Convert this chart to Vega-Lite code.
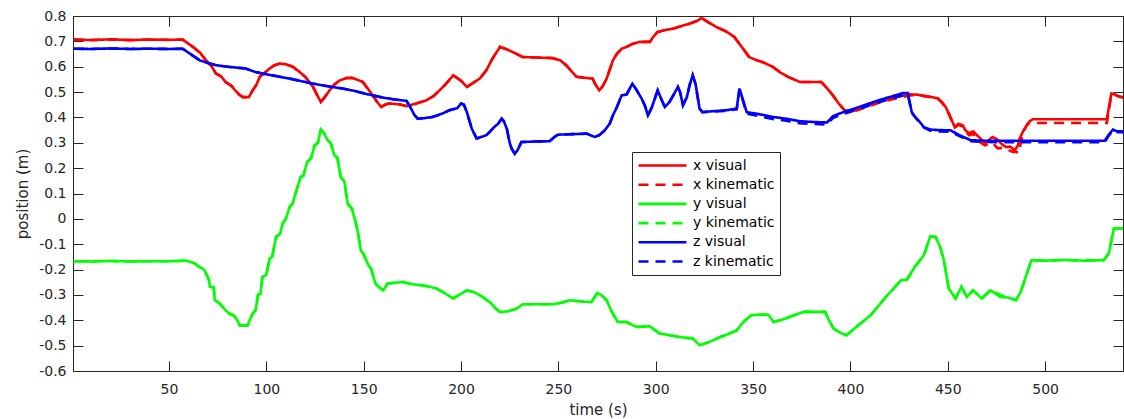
{
  "$schema": "https://vega.github.io/schema/vega-lite/v6.json",
  "width": 1050,
  "height": 355,
  "autosize": {"type": "none"},
  "padding": {"left": 73, "top": 16, "right": 1, "bottom": 48},
  "background": "white",
  "config": {
    "view": {"stroke": "#262626", "strokeWidth": 1},
    "font": "DejaVu Sans",
    "axis": {
      "labelFont": "DejaVu Sans",
      "labelFontSize": 14,
      "labelColor": "#262626",
      "titleFont": "DejaVu Sans",
      "titleFontSize": 15,
      "titleFontWeight": "normal",
      "titleColor": "#262626",
      "tickColor": "#262626",
      "domainColor": "#262626",
      "grid": false,
      "tickSize": -10
    },
    "legend": {
      "labelFont": "DejaVu Sans",
      "labelFontSize": 14,
      "labelColor": "#000000"
    }
  },
  "data": {"values": [
{"s":"x visual","t":1,"v":0.707},{"s":"x visual","t":10,"v":0.705},{"s":"x visual","t":20,"v":0.708},{"s":"x visual","t":30,"v":0.705},{"s":"x visual","t":40,"v":0.707},{"s":"x visual","t":50,"v":0.706},{"s":"x visual","t":57,"v":0.707},{"s":"x visual","t":62,"v":0.68},{"s":"x visual","t":66,"v":0.655},{"s":"x visual","t":69,"v":0.625},{"s":"x visual","t":72,"v":0.6},{"s":"x visual","t":74,"v":0.574},{"s":"x visual","t":77,"v":0.56},{"s":"x visual","t":79,"v":0.54},{"s":"x visual","t":82,"v":0.525},{"s":"x visual","t":84,"v":0.507},{"s":"x visual","t":86,"v":0.49},{"s":"x visual","t":88,"v":0.48},{"s":"x visual","t":91,"v":0.48},{"s":"x visual","t":93,"v":0.507},{"s":"x visual","t":95,"v":0.53},{"s":"x visual","t":96.6,"v":0.56},{"s":"x visual","t":99,"v":0.575},{"s":"x visual","t":101.7,"v":0.593},{"s":"x visual","t":104,"v":0.605},{"s":"x visual","t":106.8,"v":0.612},{"s":"x visual","t":110,"v":0.61},{"s":"x visual","t":113.5,"v":0.6},{"s":"x visual","t":117,"v":0.58},{"s":"x visual","t":120,"v":0.56},{"s":"x visual","t":122,"v":0.54},{"s":"x visual","t":124,"v":0.52},{"s":"x visual","t":126,"v":0.49},{"s":"x visual","t":128,"v":0.461},{"s":"x visual","t":130,"v":0.48},{"s":"x visual","t":132.5,"v":0.507},{"s":"x visual","t":135,"v":0.53},{"s":"x visual","t":137.7,"v":0.546},{"s":"x visual","t":141,"v":0.555},{"s":"x visual","t":144,"v":0.556},{"s":"x visual","t":147,"v":0.548},{"s":"x visual","t":149.5,"v":0.54},{"s":"x visual","t":152,"v":0.515},{"s":"x visual","t":154.6,"v":0.487},{"s":"x visual","t":157,"v":0.46},{"s":"x visual","t":159,"v":0.441},{"s":"x visual","t":161,"v":0.45},{"s":"x visual","t":163,"v":0.455},{"s":"x visual","t":168,"v":0.452},{"s":"x visual","t":172,"v":0.445},{"s":"x visual","t":177,"v":0.455},{"s":"x visual","t":182,"v":0.467},{"s":"x visual","t":186,"v":0.485},{"s":"x visual","t":189,"v":0.507},{"s":"x visual","t":192,"v":0.53},{"s":"x visual","t":196,"v":0.566},{"s":"x visual","t":200,"v":0.545},{"s":"x visual","t":203,"v":0.52},{"s":"x visual","t":206,"v":0.535},{"s":"x visual","t":209.6,"v":0.553},{"s":"x visual","t":213,"v":0.586},{"s":"x visual","t":216,"v":0.63},{"s":"x visual","t":220,"v":0.678},{"s":"x visual","t":223,"v":0.67},{"s":"x visual","t":226.5,"v":0.658},{"s":"x visual","t":231.7,"v":0.638},{"s":"x visual","t":240,"v":0.636},{"s":"x visual","t":247,"v":0.634},{"s":"x visual","t":251,"v":0.625},{"s":"x visual","t":254,"v":0.606},{"s":"x visual","t":257,"v":0.58},{"s":"x visual","t":259.4,"v":0.56},{"s":"x visual","t":264,"v":0.556},{"s":"x visual","t":267.6,"v":0.553},{"s":"x visual","t":269,"v":0.53},{"s":"x visual","t":271,"v":0.507},{"s":"x visual","t":272.5,"v":0.52},{"s":"x visual","t":274.8,"v":0.553},{"s":"x visual","t":278,"v":0.625},{"s":"x visual","t":280,"v":0.65},{"s":"x visual","t":282.5,"v":0.671},{"s":"x visual","t":285,"v":0.678},{"s":"x visual","t":288,"v":0.69},{"s":"x visual","t":291.8,"v":0.698},{"s":"x visual","t":297,"v":0.698},{"s":"x visual","t":299,"v":0.72},{"s":"x visual","t":301,"v":0.737},{"s":"x visual","t":305,"v":0.745},{"s":"x visual","t":308.8,"v":0.75},{"s":"x visual","t":313,"v":0.76},{"s":"x visual","t":317.5,"v":0.77},{"s":"x visual","t":321,"v":0.78},{"s":"x visual","t":323.6,"v":0.792},{"s":"x visual","t":327,"v":0.775},{"s":"x visual","t":331,"v":0.757},{"s":"x visual","t":336,"v":0.74},{"s":"x visual","t":340.4,"v":0.717},{"s":"x visual","t":344,"v":0.68},{"s":"x visual","t":348,"v":0.638},{"s":"x visual","t":352,"v":0.625},{"s":"x visual","t":355,"v":0.618},{"s":"x visual","t":360,"v":0.6},{"s":"x visual","t":363.7,"v":0.579},{"s":"x visual","t":368,"v":0.56},{"s":"x visual","t":374,"v":0.54},{"s":"x visual","t":380,"v":0.54},{"s":"x visual","t":385,"v":0.54},{"s":"x visual","t":388,"v":0.515},{"s":"x visual","t":391,"v":0.487},{"s":"x visual","t":394,"v":0.455},{"s":"x visual","t":397,"v":0.428},{"s":"x visual","t":400,"v":0.425},{"s":"x visual","t":405,"v":0.438},{"s":"x visual","t":410,"v":0.452},{"s":"x visual","t":415,"v":0.465},{"s":"x visual","t":420,"v":0.475},{"s":"x visual","t":425,"v":0.483},{"s":"x visual","t":430.5,"v":0.491},{"s":"x visual","t":434,"v":0.49},{"s":"x visual","t":438,"v":0.485},{"s":"x visual","t":442,"v":0.48},{"s":"x visual","t":445,"v":0.475},{"s":"x visual","t":447,"v":0.461},{"s":"x visual","t":449,"v":0.44},{"s":"x visual","t":451,"v":0.408},{"s":"x visual","t":453.6,"v":0.362},{"s":"x visual","t":455.5,"v":0.375},{"s":"x visual","t":457.7,"v":0.369},{"s":"x visual","t":459,"v":0.35},{"s":"x visual","t":461,"v":0.337},{"s":"x visual","t":463,"v":0.345},{"s":"x visual","t":465,"v":0.33},{"s":"x visual","t":467,"v":0.315},{"s":"x visual","t":469,"v":0.298},{"s":"x visual","t":471,"v":0.31},{"s":"x visual","t":473,"v":0.323},{"s":"x visual","t":475,"v":0.315},{"s":"x visual","t":476.7,"v":0.303},{"s":"x visual","t":478.5,"v":0.29},{"s":"x visual","t":480,"v":0.283},{"s":"x visual","t":482,"v":0.285},{"s":"x visual","t":484.4,"v":0.27},{"s":"x visual","t":486,"v":0.29},{"s":"x visual","t":487,"v":0.318},{"s":"x visual","t":489,"v":0.35},{"s":"x visual","t":490.6,"v":0.369},{"s":"x visual","t":492,"v":0.385},{"s":"x visual","t":493.7,"v":0.393},{"s":"x visual","t":500,"v":0.393},{"s":"x visual","t":510,"v":0.393},{"s":"x visual","t":520,"v":0.393},{"s":"x visual","t":531.7,"v":0.393},{"s":"x visual","t":533,"v":0.45},{"s":"x visual","t":534,"v":0.494},{"s":"x visual","t":536,"v":0.49},{"s":"x visual","t":538,"v":0.483},{"s":"x visual","t":540,"v":0.48},

{"s":"x kinematic","t":1,"v":0.707},{"s":"x kinematic","t":10,"v":0.705},{"s":"x kinematic","t":20,"v":0.708},{"s":"x kinematic","t":30,"v":0.705},{"s":"x kinematic","t":40,"v":0.707},{"s":"x kinematic","t":50,"v":0.706},{"s":"x kinematic","t":57,"v":0.707},{"s":"x kinematic","t":62,"v":0.68},{"s":"x kinematic","t":66,"v":0.655},{"s":"x kinematic","t":69,"v":0.625},{"s":"x kinematic","t":72,"v":0.6},{"s":"x kinematic","t":74,"v":0.574},{"s":"x kinematic","t":77,"v":0.56},{"s":"x kinematic","t":79,"v":0.54},{"s":"x kinematic","t":82,"v":0.525},{"s":"x kinematic","t":84,"v":0.507},{"s":"x kinematic","t":86,"v":0.49},{"s":"x kinematic","t":88,"v":0.48},{"s":"x kinematic","t":91,"v":0.48},{"s":"x kinematic","t":93,"v":0.507},{"s":"x kinematic","t":95,"v":0.53},{"s":"x kinematic","t":96.6,"v":0.56},{"s":"x kinematic","t":99,"v":0.575},{"s":"x kinematic","t":101.7,"v":0.593},{"s":"x kinematic","t":104,"v":0.605},{"s":"x kinematic","t":106.8,"v":0.612},{"s":"x kinematic","t":110,"v":0.61},{"s":"x kinematic","t":113.5,"v":0.6},{"s":"x kinematic","t":117,"v":0.58},{"s":"x kinematic","t":120,"v":0.56},{"s":"x kinematic","t":122,"v":0.54},{"s":"x kinematic","t":124,"v":0.52},{"s":"x kinematic","t":126,"v":0.49},{"s":"x kinematic","t":128,"v":0.461},{"s":"x kinematic","t":130,"v":0.48},{"s":"x kinematic","t":132.5,"v":0.507},{"s":"x kinematic","t":135,"v":0.53},{"s":"x kinematic","t":137.7,"v":0.546},{"s":"x kinematic","t":141,"v":0.555},{"s":"x kinematic","t":144,"v":0.556},{"s":"x kinematic","t":147,"v":0.548},{"s":"x kinematic","t":149.5,"v":0.54},{"s":"x kinematic","t":152,"v":0.515},{"s":"x kinematic","t":154.6,"v":0.487},{"s":"x kinematic","t":157,"v":0.46},{"s":"x kinematic","t":159,"v":0.441},{"s":"x kinematic","t":161,"v":0.45},{"s":"x kinematic","t":163,"v":0.455},{"s":"x kinematic","t":168,"v":0.452},{"s":"x kinematic","t":172,"v":0.445},{"s":"x kinematic","t":177,"v":0.455},{"s":"x kinematic","t":182,"v":0.467},{"s":"x kinematic","t":186,"v":0.485},{"s":"x kinematic","t":189,"v":0.507},{"s":"x kinematic","t":192,"v":0.53},{"s":"x kinematic","t":196,"v":0.566},{"s":"x kinematic","t":200,"v":0.545},{"s":"x kinematic","t":203,"v":0.52},{"s":"x kinematic","t":206,"v":0.535},{"s":"x kinematic","t":209.6,"v":0.553},{"s":"x kinematic","t":213,"v":0.586},{"s":"x kinematic","t":216,"v":0.63},{"s":"x kinematic","t":220,"v":0.678},{"s":"x kinematic","t":223,"v":0.67},{"s":"x kinematic","t":226.5,"v":0.658},{"s":"x kinematic","t":231.7,"v":0.638},{"s":"x kinematic","t":240,"v":0.636},{"s":"x kinematic","t":247,"v":0.634},{"s":"x kinematic","t":251,"v":0.625},{"s":"x kinematic","t":254,"v":0.606},{"s":"x kinematic","t":257,"v":0.58},{"s":"x kinematic","t":259.4,"v":0.56},{"s":"x kinematic","t":264,"v":0.556},{"s":"x kinematic","t":267.6,"v":0.553},{"s":"x kinematic","t":269,"v":0.53},{"s":"x kinematic","t":271,"v":0.507},{"s":"x kinematic","t":272.5,"v":0.52},{"s":"x kinematic","t":274.8,"v":0.553},{"s":"x kinematic","t":278,"v":0.625},{"s":"x kinematic","t":280,"v":0.65},{"s":"x kinematic","t":282.5,"v":0.671},{"s":"x kinematic","t":285,"v":0.678},{"s":"x kinematic","t":288,"v":0.69},{"s":"x kinematic","t":291.8,"v":0.698},{"s":"x kinematic","t":297,"v":0.698},{"s":"x kinematic","t":299,"v":0.72},{"s":"x kinematic","t":301,"v":0.737},{"s":"x kinematic","t":305,"v":0.745},{"s":"x kinematic","t":308.8,"v":0.75},{"s":"x kinematic","t":313,"v":0.76},{"s":"x kinematic","t":317.5,"v":0.77},{"s":"x kinematic","t":321,"v":0.78},{"s":"x kinematic","t":323.6,"v":0.792},{"s":"x kinematic","t":327,"v":0.775},{"s":"x kinematic","t":331,"v":0.757},{"s":"x kinematic","t":336,"v":0.74},{"s":"x kinematic","t":340.4,"v":0.717},{"s":"x kinematic","t":344,"v":0.68},{"s":"x kinematic","t":348,"v":0.638},{"s":"x kinematic","t":352,"v":0.625},{"s":"x kinematic","t":355,"v":0.618},{"s":"x kinematic","t":360,"v":0.6},{"s":"x kinematic","t":363.7,"v":0.579},{"s":"x kinematic","t":368,"v":0.56},{"s":"x kinematic","t":374,"v":0.54},{"s":"x kinematic","t":380,"v":0.54},{"s":"x kinematic","t":385,"v":0.54},{"s":"x kinematic","t":388,"v":0.515},{"s":"x kinematic","t":391,"v":0.487},{"s":"x kinematic","t":394,"v":0.455},{"s":"x kinematic","t":397,"v":0.428},{"s":"x kinematic","t":400,"v":0.42},{"s":"x kinematic","t":405,"v":0.432},{"s":"x kinematic","t":410,"v":0.446},{"s":"x kinematic","t":415,"v":0.459},{"s":"x kinematic","t":420,"v":0.469},{"s":"x kinematic","t":425,"v":0.478},{"s":"x kinematic","t":430.5,"v":0.487},{"s":"x kinematic","t":434,"v":0.488},{"s":"x kinematic","t":438,"v":0.484},{"s":"x kinematic","t":442,"v":0.479},{"s":"x kinematic","t":445,"v":0.473},{"s":"x kinematic","t":447,"v":0.458},{"s":"x kinematic","t":449,"v":0.437},{"s":"x kinematic","t":451,"v":0.405},{"s":"x kinematic","t":453.6,"v":0.36},{"s":"x kinematic","t":455.5,"v":0.37},{"s":"x kinematic","t":457.7,"v":0.365},{"s":"x kinematic","t":459,"v":0.345},{"s":"x kinematic","t":461,"v":0.33},{"s":"x kinematic","t":463,"v":0.335},{"s":"x kinematic","t":465,"v":0.32},{"s":"x kinematic","t":467,"v":0.3},{"s":"x kinematic","t":469,"v":0.29},{"s":"x kinematic","t":471,"v":0.295},{"s":"x kinematic","t":473,"v":0.3},{"s":"x kinematic","t":475.6,"v":0.278},{"s":"x kinematic","t":478,"v":0.28},{"s":"x kinematic","t":480,"v":0.275},{"s":"x kinematic","t":483.4,"v":0.264},{"s":"x kinematic","t":485,"v":0.265},{"s":"x kinematic","t":486.5,"v":0.26},{"s":"x kinematic","t":487.5,"v":0.3},{"s":"x kinematic","t":489,"v":0.345},{"s":"x kinematic","t":490.6,"v":0.37},{"s":"x kinematic","t":492,"v":0.378},{"s":"x kinematic","t":500,"v":0.378},{"s":"x kinematic","t":510,"v":0.378},{"s":"x kinematic","t":520,"v":0.378},{"s":"x kinematic","t":531.7,"v":0.378},{"s":"x kinematic","t":533,"v":0.44},{"s":"x kinematic","t":534,"v":0.49},{"s":"x kinematic","t":536,"v":0.488},{"s":"x kinematic","t":538,"v":0.482},{"s":"x kinematic","t":540,"v":0.478},

{"s":"y visual","t":1,"v":-0.167},{"s":"y visual","t":10,"v":-0.168},{"s":"y visual","t":20,"v":-0.166},{"s":"y visual","t":30,"v":-0.168},{"s":"y visual","t":40,"v":-0.167},{"s":"y visual","t":50,"v":-0.167},{"s":"y visual","t":59,"v":-0.165},{"s":"y visual","t":63,"v":-0.175},{"s":"y visual","t":65.8,"v":-0.19},{"s":"y visual","t":68,"v":-0.2},{"s":"y visual","t":69,"v":-0.215},{"s":"y visual","t":70.5,"v":-0.24},{"s":"y visual","t":71,"v":-0.268},{"s":"y visual","t":73,"v":-0.27},{"s":"y visual","t":73.5,"v":-0.321},{"s":"y visual","t":75.5,"v":-0.33},{"s":"y visual","t":77.6,"v":-0.347},{"s":"y visual","t":79,"v":-0.36},{"s":"y visual","t":81,"v":-0.374},{"s":"y visual","t":83,"v":-0.38},{"s":"y visual","t":84.6,"v":-0.393},{"s":"y visual","t":86.3,"v":-0.42},{"s":"y visual","t":88,"v":-0.42},{"s":"y visual","t":90.4,"v":-0.42},{"s":"y visual","t":92,"v":-0.39},{"s":"y visual","t":93,"v":-0.374},{"s":"y visual","t":94.5,"v":-0.36},{"s":"y visual","t":95.7,"v":-0.3},{"s":"y visual","t":97,"v":-0.295},{"s":"y visual","t":98,"v":-0.229},{"s":"y visual","t":100,"v":-0.22},{"s":"y visual","t":101.7,"v":-0.157},{"s":"y visual","t":103,"v":-0.15},{"s":"y visual","t":105,"v":-0.071},{"s":"y visual","t":107,"v":-0.06},{"s":"y visual","t":108.4,"v":-0.018},{"s":"y visual","t":110,"v":0},{"s":"y visual","t":112,"v":0.047},{"s":"y visual","t":113.5,"v":0.06},{"s":"y visual","t":115,"v":0.1},{"s":"y visual","t":117.6,"v":0.165},{"s":"y visual","t":119,"v":0.17},{"s":"y visual","t":121,"v":0.224},{"s":"y visual","t":123,"v":0.24},{"s":"y visual","t":124.8,"v":0.29},{"s":"y visual","t":126.5,"v":0.3},{"s":"y visual","t":128,"v":0.352},{"s":"y visual","t":129.5,"v":0.34},{"s":"y visual","t":131.5,"v":0.31},{"s":"y visual","t":133,"v":0.3},{"s":"y visual","t":135,"v":0.251},{"s":"y visual","t":136.5,"v":0.24},{"s":"y visual","t":138.2,"v":0.165},{"s":"y visual","t":140,"v":0.15},{"s":"y visual","t":141.8,"v":0.06},{"s":"y visual","t":144,"v":0.04},{"s":"y visual","t":146,"v":-0.018},{"s":"y visual","t":147,"v":-0.05},{"s":"y visual","t":148.5,"v":-0.124},{"s":"y visual","t":150,"v":-0.14},{"s":"y visual","t":152,"v":-0.176},{"s":"y visual","t":154,"v":-0.2},{"s":"y visual","t":156,"v":-0.255},{"s":"y visual","t":158,"v":-0.27},{"s":"y visual","t":160,"v":-0.282},{"s":"y visual","t":162.3,"v":-0.255},{"s":"y visual","t":166,"v":-0.252},{"s":"y visual","t":170,"v":-0.249},{"s":"y visual","t":175,"v":-0.258},{"s":"y visual","t":180,"v":-0.262},{"s":"y visual","t":184,"v":-0.268},{"s":"y visual","t":187.5,"v":-0.275},{"s":"y visual","t":192,"v":-0.295},{"s":"y visual","t":196,"v":-0.314},{"s":"y visual","t":199,"v":-0.3},{"s":"y visual","t":203,"v":-0.282},{"s":"y visual","t":207,"v":-0.29},{"s":"y visual","t":211,"v":-0.308},{"s":"y visual","t":215,"v":-0.33},{"s":"y visual","t":218,"v":-0.355},{"s":"y visual","t":220,"v":-0.367},{"s":"y visual","t":224,"v":-0.365},{"s":"y visual","t":228.6,"v":-0.354},{"s":"y visual","t":231.7,"v":-0.337},{"s":"y visual","t":240,"v":-0.337},{"s":"y visual","t":247,"v":-0.337},{"s":"y visual","t":252,"v":-0.33},{"s":"y visual","t":255.8,"v":-0.321},{"s":"y visual","t":262,"v":-0.326},{"s":"y visual","t":267,"v":-0.328},{"s":"y visual","t":270,"v":-0.292},{"s":"y visual","t":272,"v":-0.3},{"s":"y visual","t":274.8,"v":-0.321},{"s":"y visual","t":277,"v":-0.36},{"s":"y visual","t":280.5,"v":-0.407},{"s":"y visual","t":285,"v":-0.407},{"s":"y visual","t":290,"v":-0.426},{"s":"y visual","t":297,"v":-0.424},{"s":"y visual","t":302,"v":-0.452},{"s":"y visual","t":308,"v":-0.46},{"s":"y visual","t":314,"v":-0.468},{"s":"y visual","t":319,"v":-0.472},{"s":"y visual","t":322.6,"v":-0.498},{"s":"y visual","t":324,"v":-0.495},{"s":"y visual","t":327.7,"v":-0.485},{"s":"y visual","t":333,"v":-0.466},{"s":"y visual","t":337,"v":-0.455},{"s":"y visual","t":341.6,"v":-0.44},{"s":"y visual","t":345,"v":-0.407},{"s":"y visual","t":349,"v":-0.38},{"s":"y visual","t":356.5,"v":-0.377},{"s":"y visual","t":358,"v":-0.38},{"s":"y visual","t":360.6,"v":-0.407},{"s":"y visual","t":366,"v":-0.395},{"s":"y visual","t":371,"v":-0.38},{"s":"y visual","t":376,"v":-0.367},{"s":"y visual","t":382,"v":-0.367},{"s":"y visual","t":387,"v":-0.367},{"s":"y visual","t":389,"v":-0.4},{"s":"y visual","t":391.4,"v":-0.433},{"s":"y visual","t":395,"v":-0.45},{"s":"y visual","t":398,"v":-0.459},{"s":"y visual","t":404,"v":-0.42},{"s":"y visual","t":410.4,"v":-0.38},{"s":"y visual","t":418,"v":-0.31},{"s":"y visual","t":426,"v":-0.242},{"s":"y visual","t":429,"v":-0.24},{"s":"y visual","t":433,"v":-0.19},{"s":"y visual","t":437.7,"v":-0.144},{"s":"y visual","t":441,"v":-0.069},{"s":"y visual","t":443.8,"v":-0.071},{"s":"y visual","t":446,"v":-0.11},{"s":"y visual","t":448,"v":-0.163},{"s":"y visual","t":450.5,"v":-0.275},{"s":"y visual","t":454,"v":-0.314},{"s":"y visual","t":457,"v":-0.268},{"s":"y visual","t":459.8,"v":-0.308},{"s":"y visual","t":463,"v":-0.282},{"s":"y visual","t":467.5,"v":-0.314},{"s":"y visual","t":472,"v":-0.282},{"s":"y visual","t":477,"v":-0.308},{"s":"y visual","t":481,"v":-0.31},{"s":"y visual","t":485,"v":-0.321},{"s":"y visual","t":487.5,"v":-0.288},{"s":"y visual","t":490.6,"v":-0.216},{"s":"y visual","t":493,"v":-0.163},{"s":"y visual","t":500,"v":-0.165},{"s":"y visual","t":510,"v":-0.162},{"s":"y visual","t":520,"v":-0.165},{"s":"y visual","t":530,"v":-0.163},{"s":"y visual","t":532.7,"v":-0.137},{"s":"y visual","t":535.3,"v":-0.038},{"s":"y visual","t":540,"v":-0.038},

{"s":"y kinematic","t":1,"v":-0.167},{"s":"y kinematic","t":10,"v":-0.168},{"s":"y kinematic","t":20,"v":-0.166},{"s":"y kinematic","t":30,"v":-0.168},{"s":"y kinematic","t":40,"v":-0.167},{"s":"y kinematic","t":50,"v":-0.167},{"s":"y kinematic","t":59,"v":-0.165},{"s":"y kinematic","t":63,"v":-0.175},{"s":"y kinematic","t":65.8,"v":-0.19},{"s":"y kinematic","t":68,"v":-0.2},{"s":"y kinematic","t":69,"v":-0.215},{"s":"y kinematic","t":70.5,"v":-0.24},{"s":"y kinematic","t":71,"v":-0.268},{"s":"y kinematic","t":73,"v":-0.27},{"s":"y kinematic","t":73.5,"v":-0.321},{"s":"y kinematic","t":75.5,"v":-0.33},{"s":"y kinematic","t":77.6,"v":-0.347},{"s":"y kinematic","t":79,"v":-0.36},{"s":"y kinematic","t":81,"v":-0.374},{"s":"y kinematic","t":83,"v":-0.38},{"s":"y kinematic","t":84.6,"v":-0.393},{"s":"y kinematic","t":86.3,"v":-0.42},{"s":"y kinematic","t":88,"v":-0.42},{"s":"y kinematic","t":90.4,"v":-0.42},{"s":"y kinematic","t":92,"v":-0.39},{"s":"y kinematic","t":93,"v":-0.374},{"s":"y kinematic","t":94.5,"v":-0.36},{"s":"y kinematic","t":95.7,"v":-0.3},{"s":"y kinematic","t":97,"v":-0.295},{"s":"y kinematic","t":98,"v":-0.229},{"s":"y kinematic","t":100,"v":-0.22},{"s":"y kinematic","t":101.7,"v":-0.157},{"s":"y kinematic","t":103,"v":-0.15},{"s":"y kinematic","t":105,"v":-0.071},{"s":"y kinematic","t":107,"v":-0.06},{"s":"y kinematic","t":108.4,"v":-0.018},{"s":"y kinematic","t":110,"v":0},{"s":"y kinematic","t":112,"v":0.047},{"s":"y kinematic","t":113.5,"v":0.06},{"s":"y kinematic","t":115,"v":0.1},{"s":"y kinematic","t":117.6,"v":0.165},{"s":"y kinematic","t":119,"v":0.17},{"s":"y kinematic","t":121,"v":0.224},{"s":"y kinematic","t":123,"v":0.24},{"s":"y kinematic","t":124.8,"v":0.29},{"s":"y kinematic","t":126.5,"v":0.3},{"s":"y kinematic","t":128,"v":0.352},{"s":"y kinematic","t":129.5,"v":0.34},{"s":"y kinematic","t":131.5,"v":0.31},{"s":"y kinematic","t":133,"v":0.3},{"s":"y kinematic","t":135,"v":0.251},{"s":"y kinematic","t":136.5,"v":0.24},{"s":"y kinematic","t":138.2,"v":0.165},{"s":"y kinematic","t":140,"v":0.15},{"s":"y kinematic","t":141.8,"v":0.06},{"s":"y kinematic","t":144,"v":0.04},{"s":"y kinematic","t":146,"v":-0.018},{"s":"y kinematic","t":147,"v":-0.05},{"s":"y kinematic","t":148.5,"v":-0.124},{"s":"y kinematic","t":150,"v":-0.14},{"s":"y kinematic","t":152,"v":-0.176},{"s":"y kinematic","t":154,"v":-0.2},{"s":"y kinematic","t":156,"v":-0.255},{"s":"y kinematic","t":158,"v":-0.27},{"s":"y kinematic","t":160,"v":-0.282},{"s":"y kinematic","t":162.3,"v":-0.255},{"s":"y kinematic","t":166,"v":-0.252},{"s":"y kinematic","t":170,"v":-0.249},{"s":"y kinematic","t":175,"v":-0.258},{"s":"y kinematic","t":180,"v":-0.262},{"s":"y kinematic","t":184,"v":-0.268},{"s":"y kinematic","t":187.5,"v":-0.275},{"s":"y kinematic","t":192,"v":-0.295},{"s":"y kinematic","t":196,"v":-0.314},{"s":"y kinematic","t":199,"v":-0.3},{"s":"y kinematic","t":203,"v":-0.282},{"s":"y kinematic","t":207,"v":-0.29},{"s":"y kinematic","t":211,"v":-0.308},{"s":"y kinematic","t":215,"v":-0.33},{"s":"y kinematic","t":218,"v":-0.355},{"s":"y kinematic","t":220,"v":-0.367},{"s":"y kinematic","t":224,"v":-0.365},{"s":"y kinematic","t":228.6,"v":-0.354},{"s":"y kinematic","t":231.7,"v":-0.337},{"s":"y kinematic","t":240,"v":-0.337},{"s":"y kinematic","t":247,"v":-0.337},{"s":"y kinematic","t":252,"v":-0.33},{"s":"y kinematic","t":255.8,"v":-0.321},{"s":"y kinematic","t":262,"v":-0.326},{"s":"y kinematic","t":267,"v":-0.328},{"s":"y kinematic","t":270,"v":-0.292},{"s":"y kinematic","t":272,"v":-0.3},{"s":"y kinematic","t":274.8,"v":-0.321},{"s":"y kinematic","t":277,"v":-0.36},{"s":"y kinematic","t":280.5,"v":-0.407},{"s":"y kinematic","t":285,"v":-0.407},{"s":"y kinematic","t":290,"v":-0.426},{"s":"y kinematic","t":297,"v":-0.424},{"s":"y kinematic","t":302,"v":-0.452},{"s":"y kinematic","t":308,"v":-0.46},{"s":"y kinematic","t":314,"v":-0.468},{"s":"y kinematic","t":319,"v":-0.472},{"s":"y kinematic","t":322.6,"v":-0.498},{"s":"y kinematic","t":324,"v":-0.495},{"s":"y kinematic","t":327.7,"v":-0.485},{"s":"y kinematic","t":333,"v":-0.466},{"s":"y kinematic","t":337,"v":-0.455},{"s":"y kinematic","t":341.6,"v":-0.44},{"s":"y kinematic","t":345,"v":-0.407},{"s":"y kinematic","t":349,"v":-0.38},{"s":"y kinematic","t":356.5,"v":-0.377},{"s":"y kinematic","t":358,"v":-0.38},{"s":"y kinematic","t":360.6,"v":-0.407},{"s":"y kinematic","t":366,"v":-0.395},{"s":"y kinematic","t":371,"v":-0.38},{"s":"y kinematic","t":376,"v":-0.367},{"s":"y kinematic","t":382,"v":-0.367},{"s":"y kinematic","t":387,"v":-0.367},{"s":"y kinematic","t":389,"v":-0.4},{"s":"y kinematic","t":391.4,"v":-0.433},{"s":"y kinematic","t":395,"v":-0.45},{"s":"y kinematic","t":398,"v":-0.459},{"s":"y kinematic","t":404,"v":-0.42},{"s":"y kinematic","t":410.4,"v":-0.38},{"s":"y kinematic","t":418,"v":-0.31},{"s":"y kinematic","t":426,"v":-0.242},{"s":"y kinematic","t":429,"v":-0.24},{"s":"y kinematic","t":433,"v":-0.19},{"s":"y kinematic","t":437.7,"v":-0.144},{"s":"y kinematic","t":441,"v":-0.069},{"s":"y kinematic","t":443.8,"v":-0.071},{"s":"y kinematic","t":446,"v":-0.11},{"s":"y kinematic","t":448,"v":-0.163},{"s":"y kinematic","t":450.5,"v":-0.275},{"s":"y kinematic","t":454,"v":-0.314},{"s":"y kinematic","t":457,"v":-0.268},{"s":"y kinematic","t":459.8,"v":-0.308},{"s":"y kinematic","t":463,"v":-0.282},{"s":"y kinematic","t":467.5,"v":-0.314},{"s":"y kinematic","t":472,"v":-0.278},{"s":"y kinematic","t":477,"v":-0.3},{"s":"y kinematic","t":481,"v":-0.31},{"s":"y kinematic","t":485,"v":-0.321},{"s":"y kinematic","t":487.5,"v":-0.288},{"s":"y kinematic","t":490.6,"v":-0.216},{"s":"y kinematic","t":493,"v":-0.163},{"s":"y kinematic","t":500,"v":-0.165},{"s":"y kinematic","t":510,"v":-0.162},{"s":"y kinematic","t":520,"v":-0.165},{"s":"y kinematic","t":530,"v":-0.163},{"s":"y kinematic","t":532.7,"v":-0.137},{"s":"y kinematic","t":535.3,"v":-0.038},{"s":"y kinematic","t":540,"v":-0.038},

{"s":"z visual","t":1,"v":0.671},{"s":"z visual","t":10,"v":0.67},{"s":"z visual","t":20,"v":0.672},{"s":"z visual","t":30,"v":0.67},{"s":"z visual","t":40,"v":0.671},{"s":"z visual","t":50,"v":0.67},{"s":"z visual","t":57,"v":0.671},{"s":"z visual","t":62,"v":0.645},{"s":"z visual","t":65.8,"v":0.625},{"s":"z visual","t":70,"v":0.615},{"s":"z visual","t":74,"v":0.606},{"s":"z visual","t":80,"v":0.6},{"s":"z visual","t":89.4,"v":0.593},{"s":"z visual","t":94,"v":0.58},{"s":"z visual","t":98,"v":0.573},{"s":"z visual","t":105,"v":0.563},{"s":"z visual","t":112,"v":0.553},{"s":"z visual","t":118,"v":0.543},{"s":"z visual","t":124,"v":0.533},{"s":"z visual","t":134,"v":0.52},{"s":"z visual","t":139,"v":0.514},{"s":"z visual","t":145,"v":0.505},{"s":"z visual","t":150,"v":0.495},{"s":"z visual","t":154.6,"v":0.487},{"s":"z visual","t":160,"v":0.478},{"s":"z visual","t":165,"v":0.472},{"s":"z visual","t":170,"v":0.467},{"s":"z visual","t":172,"v":0.465},{"s":"z visual","t":174,"v":0.44},{"s":"z visual","t":176,"v":0.41},{"s":"z visual","t":177.7,"v":0.395},{"s":"z visual","t":181,"v":0.397},{"s":"z visual","t":185.4,"v":0.402},{"s":"z visual","t":190,"v":0.414},{"s":"z visual","t":194,"v":0.428},{"s":"z visual","t":198,"v":0.436},{"s":"z visual","t":200,"v":0.455},{"s":"z visual","t":201.5,"v":0.45},{"s":"z visual","t":203,"v":0.421},{"s":"z visual","t":205.5,"v":0.356},{"s":"z visual","t":208,"v":0.317},{"s":"z visual","t":210,"v":0.322},{"s":"z visual","t":213,"v":0.33},{"s":"z visual","t":215,"v":0.345},{"s":"z visual","t":217,"v":0.362},{"s":"z visual","t":219,"v":0.375},{"s":"z visual","t":220.9,"v":0.395},{"s":"z visual","t":222,"v":0.385},{"s":"z visual","t":223.5,"v":0.356},{"s":"z visual","t":225,"v":0.3},{"s":"z visual","t":226,"v":0.277},{"s":"z visual","t":227.6,"v":0.257},{"s":"z visual","t":229,"v":0.27},{"s":"z visual","t":231,"v":0.303},{"s":"z visual","t":238,"v":0.305},{"s":"z visual","t":245.5,"v":0.306},{"s":"z visual","t":247.5,"v":0.32},{"s":"z visual","t":249.7,"v":0.332},{"s":"z visual","t":257,"v":0.334},{"s":"z visual","t":264.5,"v":0.336},{"s":"z visual","t":268.7,"v":0.323},{"s":"z visual","t":271,"v":0.33},{"s":"z visual","t":273.8,"v":0.349},{"s":"z visual","t":276.4,"v":0.376},{"s":"z visual","t":278,"v":0.408},{"s":"z visual","t":280,"v":0.44},{"s":"z visual","t":282.5,"v":0.487},{"s":"z visual","t":285,"v":0.49},{"s":"z visual","t":288,"v":0.533},{"s":"z visual","t":290,"v":0.51},{"s":"z visual","t":292.8,"v":0.474},{"s":"z visual","t":294.5,"v":0.445},{"s":"z visual","t":296,"v":0.408},{"s":"z visual","t":298,"v":0.44},{"s":"z visual","t":301,"v":0.507},{"s":"z visual","t":303,"v":0.47},{"s":"z visual","t":304.7,"v":0.441},{"s":"z visual","t":307,"v":0.46},{"s":"z visual","t":311.4,"v":0.52},{"s":"z visual","t":312.5,"v":0.5},{"s":"z visual","t":314,"v":0.448},{"s":"z visual","t":316,"v":0.48},{"s":"z visual","t":317.5,"v":0.53},{"s":"z visual","t":319,"v":0.566},{"s":"z visual","t":320.5,"v":0.53},{"s":"z visual","t":322.5,"v":0.435},{"s":"z visual","t":324,"v":0.421},{"s":"z visual","t":330,"v":0.425},{"s":"z visual","t":336,"v":0.428},{"s":"z visual","t":341.6,"v":0.435},{"s":"z visual","t":343,"v":0.514},{"s":"z visual","t":344.8,"v":0.47},{"s":"z visual","t":346.7,"v":0.421},{"s":"z visual","t":353,"v":0.413},{"s":"z visual","t":360,"v":0.402},{"s":"z visual","t":367,"v":0.395},{"s":"z visual","t":374,"v":0.385},{"s":"z visual","t":381,"v":0.382},{"s":"z visual","t":388,"v":0.38},{"s":"z visual","t":391,"v":0.405},{"s":"z visual","t":396,"v":0.42},{"s":"z visual","t":400,"v":0.43},{"s":"z visual","t":404.8,"v":0.442},{"s":"z visual","t":410,"v":0.456},{"s":"z visual","t":415,"v":0.469},{"s":"z visual","t":420,"v":0.48},{"s":"z visual","t":427,"v":0.496},{"s":"z visual","t":429.5,"v":0.496},{"s":"z visual","t":431.5,"v":0.421},{"s":"z visual","t":433.5,"v":0.4},{"s":"z visual","t":435.6,"v":0.382},{"s":"z visual","t":437.7,"v":0.362},{"s":"z visual","t":441,"v":0.352},{"s":"z visual","t":446,"v":0.35},{"s":"z visual","t":451.5,"v":0.349},{"s":"z visual","t":456,"v":0.33},{"s":"z visual","t":461.8,"v":0.31},{"s":"z visual","t":470,"v":0.308},{"s":"z visual","t":480,"v":0.308},{"s":"z visual","t":490,"v":0.308},{"s":"z visual","t":500,"v":0.308},{"s":"z visual","t":515,"v":0.308},{"s":"z visual","t":530.6,"v":0.308},{"s":"z visual","t":532.5,"v":0.33},{"s":"z visual","t":534.8,"v":0.352},{"s":"z visual","t":537,"v":0.345},{"s":"z visual","t":540,"v":0.345},

{"s":"z kinematic","t":1,"v":0.671},{"s":"z kinematic","t":10,"v":0.67},{"s":"z kinematic","t":20,"v":0.672},{"s":"z kinematic","t":30,"v":0.67},{"s":"z kinematic","t":40,"v":0.671},{"s":"z kinematic","t":50,"v":0.67},{"s":"z kinematic","t":57,"v":0.671},{"s":"z kinematic","t":62,"v":0.645},{"s":"z kinematic","t":65.8,"v":0.625},{"s":"z kinematic","t":70,"v":0.615},{"s":"z kinematic","t":74,"v":0.606},{"s":"z kinematic","t":80,"v":0.6},{"s":"z kinematic","t":89.4,"v":0.593},{"s":"z kinematic","t":94,"v":0.58},{"s":"z kinematic","t":98,"v":0.573},{"s":"z kinematic","t":105,"v":0.563},{"s":"z kinematic","t":112,"v":0.553},{"s":"z kinematic","t":118,"v":0.543},{"s":"z kinematic","t":124,"v":0.533},{"s":"z kinematic","t":134,"v":0.52},{"s":"z kinematic","t":139,"v":0.514},{"s":"z kinematic","t":145,"v":0.505},{"s":"z kinematic","t":150,"v":0.495},{"s":"z kinematic","t":154.6,"v":0.487},{"s":"z kinematic","t":160,"v":0.478},{"s":"z kinematic","t":165,"v":0.472},{"s":"z kinematic","t":170,"v":0.467},{"s":"z kinematic","t":172,"v":0.465},{"s":"z kinematic","t":174,"v":0.44},{"s":"z kinematic","t":176,"v":0.41},{"s":"z kinematic","t":177.7,"v":0.395},{"s":"z kinematic","t":181,"v":0.397},{"s":"z kinematic","t":185.4,"v":0.402},{"s":"z kinematic","t":190,"v":0.414},{"s":"z kinematic","t":194,"v":0.428},{"s":"z kinematic","t":198,"v":0.436},{"s":"z kinematic","t":200,"v":0.455},{"s":"z kinematic","t":201.5,"v":0.45},{"s":"z kinematic","t":203,"v":0.421},{"s":"z kinematic","t":205.5,"v":0.356},{"s":"z kinematic","t":208,"v":0.317},{"s":"z kinematic","t":210,"v":0.322},{"s":"z kinematic","t":213,"v":0.33},{"s":"z kinematic","t":215,"v":0.345},{"s":"z kinematic","t":217,"v":0.362},{"s":"z kinematic","t":219,"v":0.375},{"s":"z kinematic","t":220.9,"v":0.395},{"s":"z kinematic","t":222,"v":0.385},{"s":"z kinematic","t":223.5,"v":0.356},{"s":"z kinematic","t":225,"v":0.3},{"s":"z kinematic","t":226,"v":0.277},{"s":"z kinematic","t":227.6,"v":0.257},{"s":"z kinematic","t":229,"v":0.27},{"s":"z kinematic","t":231,"v":0.303},{"s":"z kinematic","t":238,"v":0.305},{"s":"z kinematic","t":245.5,"v":0.306},{"s":"z kinematic","t":247.5,"v":0.32},{"s":"z kinematic","t":249.7,"v":0.332},{"s":"z kinematic","t":257,"v":0.334},{"s":"z kinematic","t":264.5,"v":0.336},{"s":"z kinematic","t":268.7,"v":0.323},{"s":"z kinematic","t":271,"v":0.33},{"s":"z kinematic","t":273.8,"v":0.349},{"s":"z kinematic","t":276.4,"v":0.376},{"s":"z kinematic","t":278,"v":0.408},{"s":"z kinematic","t":280,"v":0.44},{"s":"z kinematic","t":282.5,"v":0.487},{"s":"z kinematic","t":285,"v":0.49},{"s":"z kinematic","t":288,"v":0.533},{"s":"z kinematic","t":290,"v":0.51},{"s":"z kinematic","t":292.8,"v":0.474},{"s":"z kinematic","t":294.5,"v":0.445},{"s":"z kinematic","t":296,"v":0.408},{"s":"z kinematic","t":298,"v":0.44},{"s":"z kinematic","t":301,"v":0.507},{"s":"z kinematic","t":303,"v":0.47},{"s":"z kinematic","t":304.7,"v":0.441},{"s":"z kinematic","t":307,"v":0.46},{"s":"z kinematic","t":311.4,"v":0.52},{"s":"z kinematic","t":312.5,"v":0.5},{"s":"z kinematic","t":314,"v":0.448},{"s":"z kinematic","t":316,"v":0.48},{"s":"z kinematic","t":317.5,"v":0.53},{"s":"z kinematic","t":319,"v":0.566},{"s":"z kinematic","t":320.5,"v":0.53},{"s":"z kinematic","t":322.5,"v":0.435},{"s":"z kinematic","t":324,"v":0.421},{"s":"z kinematic","t":330,"v":0.423},{"s":"z kinematic","t":336,"v":0.426},{"s":"z kinematic","t":341.6,"v":0.432},{"s":"z kinematic","t":343,"v":0.51},{"s":"z kinematic","t":344.8,"v":0.465},{"s":"z kinematic","t":346.7,"v":0.415},{"s":"z kinematic","t":353,"v":0.405},{"s":"z kinematic","t":360,"v":0.394},{"s":"z kinematic","t":367,"v":0.387},{"s":"z kinematic","t":374,"v":0.377},{"s":"z kinematic","t":381,"v":0.374},{"s":"z kinematic","t":388,"v":0.372},{"s":"z kinematic","t":391,"v":0.398},{"s":"z kinematic","t":396,"v":0.413},{"s":"z kinematic","t":400,"v":0.422},{"s":"z kinematic","t":404.8,"v":0.434},{"s":"z kinematic","t":410,"v":0.448},{"s":"z kinematic","t":415,"v":0.461},{"s":"z kinematic","t":420,"v":0.472},{"s":"z kinematic","t":427,"v":0.488},{"s":"z kinematic","t":429.5,"v":0.49},{"s":"z kinematic","t":431.5,"v":0.418},{"s":"z kinematic","t":433.5,"v":0.398},{"s":"z kinematic","t":435.6,"v":0.38},{"s":"z kinematic","t":437.7,"v":0.36},{"s":"z kinematic","t":441,"v":0.348},{"s":"z kinematic","t":446,"v":0.345},{"s":"z kinematic","t":451.5,"v":0.344},{"s":"z kinematic","t":456,"v":0.326},{"s":"z kinematic","t":461.8,"v":0.306},{"s":"z kinematic","t":470,"v":0.303},{"s":"z kinematic","t":480,"v":0.302},{"s":"z kinematic","t":490,"v":0.302},{"s":"z kinematic","t":500,"v":0.302},{"s":"z kinematic","t":515,"v":0.302},{"s":"z kinematic","t":530.6,"v":0.302},{"s":"z kinematic","t":532.5,"v":0.326},{"s":"z kinematic","t":534.8,"v":0.348},{"s":"z kinematic","t":537,"v":0.342},{"s":"z kinematic","t":540,"v":0.342}
  ]},
  "resolve": {"axis": {"x": "independent", "y": "independent"}},
  "layer": [
    {
      "mark": {"type": "line", "strokeWidth": 2.6, "clip": true},
      "encoding": {
        "x": {
          "field": "t", "type": "quantitative",
          "scale": {"domain": [0.7, 540], "nice": false, "zero": false},
          "axis": {
            "title": "time (s)",
            "values": [50, 100, 150, 200, 250, 300, 350, 400, 450, 500],
            "labelPadding": 21,
            "titlePadding": 6,
            "domain": false
          }
        },
        "y": {
          "field": "v", "type": "quantitative",
          "scale": {"domain": [-0.6, 0.8], "nice": false, "zero": false},
          "axis": {
            "title": "position (m)",
            "values": [-0.6, -0.5, -0.4, -0.3, -0.2, -0.1, 0, 0.1, 0.2, 0.3, 0.4, 0.5, 0.6, 0.7, 0.8],
            "labelExpr": "toString(round(datum.value*10)/10)",
            "labelPadding": 17,
            "titlePadding": 8,
            "domain": false
          }
        },
        "color": {
          "field": "s", "type": "nominal",
          "scale": {
            "domain": ["x visual", "x kinematic", "y visual", "y kinematic", "z visual", "z kinematic"],
            "range": ["#ff0000", "#ff0000", "#00ff00", "#00ff00", "#0000ff", "#0000ff"]
          },
          "legend": {
            "title": null,
            "orient": "none",
            "legendX": 559,
            "legendY": 136,
            "symbolType": "stroke",
            "symbolSize": 2304,
            "symbolStrokeWidth": 2.6,
            "clipHeight": 17,
            "rowPadding": 2.2,
            "labelOffset": 5,
            "padding": 5,
            "strokeColor": "#262626",
            "fillColor": "white",
            "cornerRadius": 0
          }
        },
        "strokeDash": {
          "field": "s", "type": "nominal",
          "scale": {
            "domain": ["x visual", "x kinematic", "y visual", "y kinematic", "z visual", "z kinematic"],
            "range": [[1, 0], [10, 7], [1, 0], [10, 7], [1, 0], [10, 7]]
          },
          "legend": {
            "title": null,
            "orient": "none",
            "legendX": 559,
            "legendY": 136,
            "symbolType": "stroke",
            "symbolSize": 2304,
            "symbolStrokeWidth": 2.6,
            "clipHeight": 17,
            "rowPadding": 2.2,
            "labelOffset": 5,
            "padding": 5,
            "strokeColor": "#262626",
            "fillColor": "white",
            "cornerRadius": 0
          }
        }
      }
    },
    {
      "mark": {"type": "line", "opacity": 0},
      "encoding": {
        "x": {
          "field": "t", "type": "quantitative",
          "axis": {
            "orient": "top", "title": null, "labels": false, "domain": false,
            "values": [50, 100, 150, 200, 250, 300, 350, 400, 450, 500]
          }
        },
        "y": {
          "field": "v", "type": "quantitative",
          "axis": {
            "orient": "right", "title": null, "labels": false, "domain": false,
            "values": [-0.6, -0.5, -0.4, -0.3, -0.2, -0.1, 0, 0.1, 0.2, 0.3, 0.4, 0.5, 0.6, 0.7, 0.8]
          }
        },
        "detail": {"field": "s", "type": "nominal"}
      }
    }
  ]
}
